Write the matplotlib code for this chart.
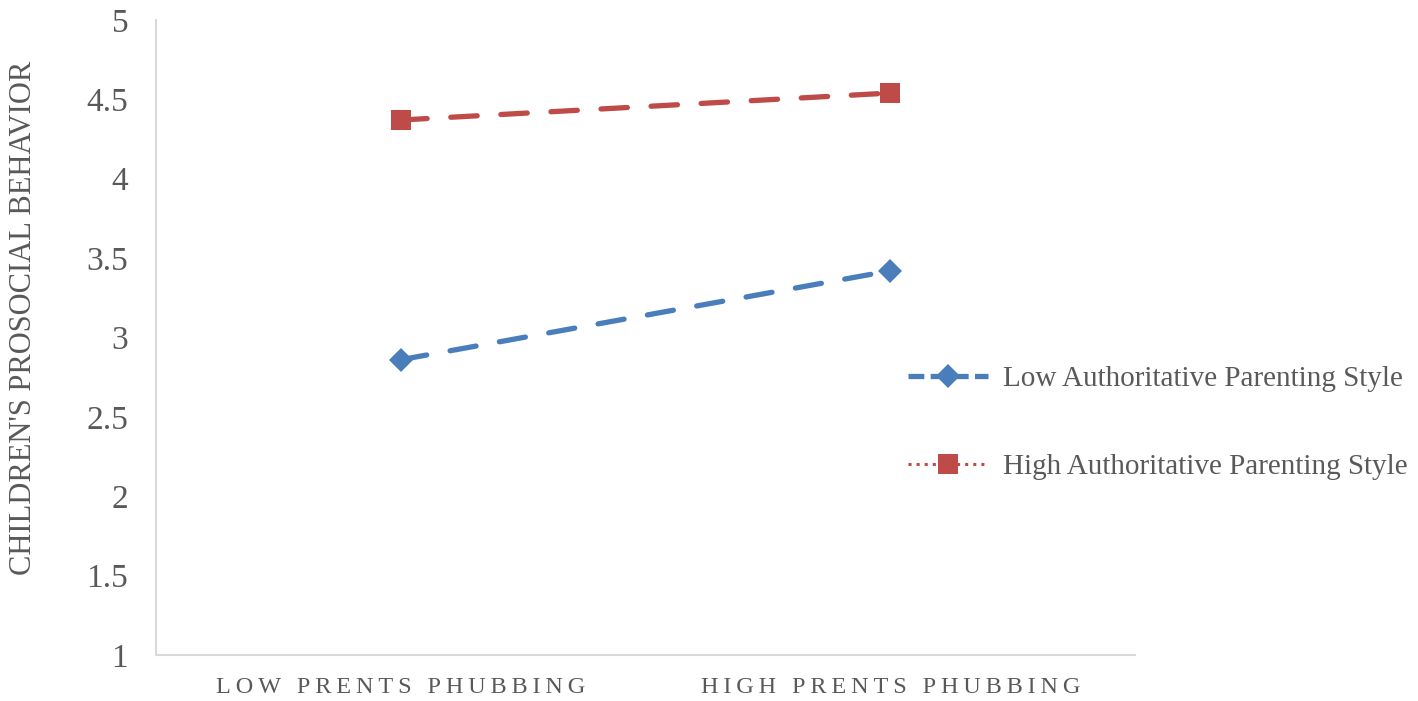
import matplotlib.pyplot as plt
from matplotlib.lines import Line2D

categories = ["LOW PRENTS PHUBBING", "HIGH PRENTS PHUBBING"]
low_auth = [2.86, 3.42]
high_auth = [4.37, 4.54]
series_names = ["Low Authoritative Parenting Style", "High Authoritative Parenting Style"]
y_ticks = [1, 1.5, 2, 2.5, 3, 3.5, 4, 4.5, 5]

blue = "#4a7ebb"
red = "#be4b48"
grey = "#595959"

plt.rcParams["font.family"] = ["Liberation Serif", "DejaVu Serif"]

fig = plt.figure(figsize=(14.18, 7.01), dpi=100)
ax = fig.add_axes([156 / 1418, 46 / 701, 979 / 1418, 635 / 701])

x = list(range(len(categories)))
ax.plot(x, low_auth, color=blue, lw=3.8, dashes=(5, 4.5), dash_capstyle="round",
        marker="D", ms=12, markeredgewidth=0)
ax.plot(x, high_auth, color=red, lw=3.8, dashes=(5, 4.5), dash_capstyle="round",
        marker="s", ms=14, markeredgewidth=0)

ax.set_xlim(-0.5, 1.5)
ax.set_ylim(1, 5)
ax.set_yticks(y_ticks)
ax.set_yticklabels([f"{v:g}" for v in y_ticks])
ax.set_xticks(x)
# spread letters out a bit, like the original letter-spaced labels
ax.set_xticklabels(["\u2009".join(c) for c in categories])

for s in ["top", "right"]:
    ax.spines[s].set_visible(False)
for s in ["left", "bottom"]:
    ax.spines[s].set_color("#d9d9d9")
    ax.spines[s].set_linewidth(1.5)

ax.tick_params(length=0, colors=grey)
ax.tick_params(axis="y", labelsize=24, pad=20)
ax.tick_params(axis="x", labelsize=17.5, pad=16)

ax.set_ylabel("CHILDREN'S PROSOCIAL BEHAVIOR", fontsize=22, color=grey)
ax.yaxis.set_label_coords(-0.1205, 0.531)

handles = [
    Line2D([], [], color=blue, lw=3.8, dashes=(3, 1.2), marker="D", ms=12, markeredgewidth=0),
    Line2D([], [], color=red, lw=2.2, ls=":", marker="s", ms=14, markeredgewidth=0),
]
fig.legend(handles, series_names, loc="center left", bbox_to_anchor=(882 / 1418, 0.397),
           frameon=False, fontsize=21, labelcolor=grey, handlelength=2.74,
           labelspacing=2.1, handletextpad=0.5)

fig.savefig("out.png", dpi=100)
